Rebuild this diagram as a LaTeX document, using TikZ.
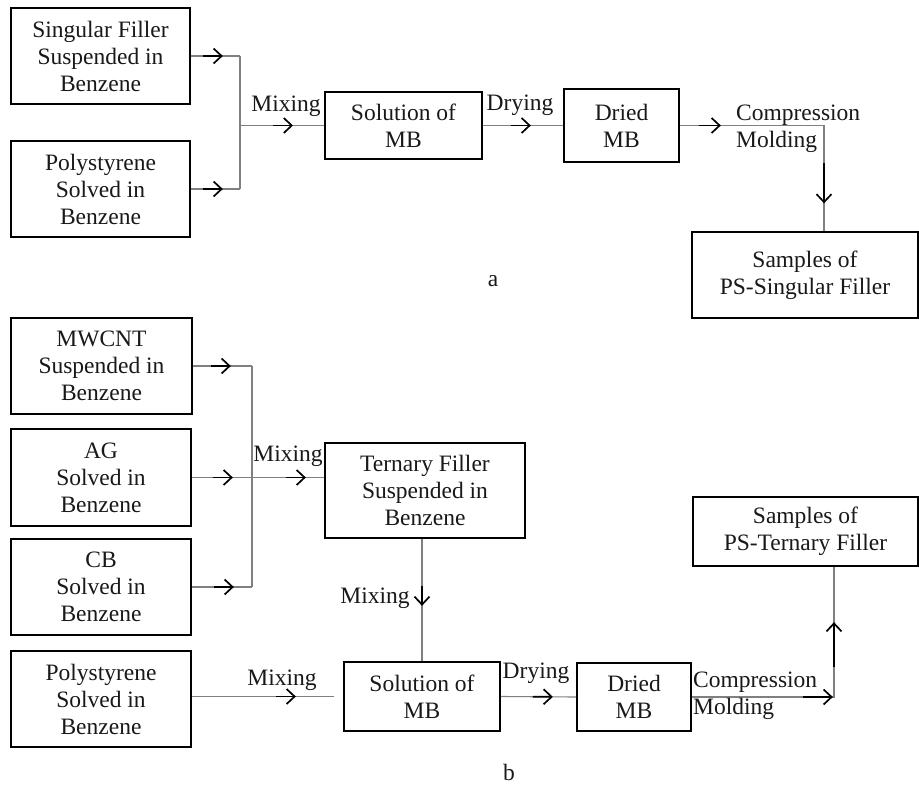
\documentclass[tikz,border=0pt]{standalone}
\usepackage{fontspec}
\setmainfont{Liberation Serif}
\usetikzlibrary{arrows.meta,decorations.markings,calc}
\definecolor{lg}{gray}{0.5}
\definecolor{txt}{gray}{0.1}
\newcommand\diafont{\fontsize{23.5}{27}\selectfont}
\begin{document}
\begin{tikzpicture}[x=1pt,y=-1pt,
  box/.style={draw=black,line width=1.7pt,align=center,inner sep=0pt,font=\diafont,text=txt},
  conn/.style={draw=lg,line width=1.1pt},
  lbl/.style={inner sep=0pt,font=\diafont,text=txt},
  arr/.style 2 args={postaction={decoration={markings,mark=at position #1 with {\draw[black,line width=1.7pt,-{Straight Barb[length=8pt,width=15pt,line width=1.7pt]}] (-#2,0pt) -- (0pt,0pt);}},decorate}}
]
\fill[white] (0,0) rectangle (919,787);
\useasboundingbox (0,0) rectangle (919,787);

% ---------- part a ----------
\node[box,minimum width=179pt,minimum height=96pt] (A1) at (100.5,56) {Singular Filler\\Suspended in\\Benzene};
\node[box,minimum width=179pt,minimum height=96pt] (A2) at (100.5,189) {Polystyrene\\Solved in\\Benzene};
\node[box,minimum width=157pt,minimum height=67pt] (SA) at (403.5,125.5) {Solution of\\MB};
\node[box,minimum width=115pt,minimum height=73pt] (DA) at (621.5,125.5) {Dried\\MB};
\node[box,minimum width=226pt,minimum height=86pt] (PA) at (805,275) {Samples of\\PS-Singular Filler};
\coordinate (ja) at (240,126);
\coordinate (ca) at (824,0);

\draw[conn,arr={32pt}{20pt}] (A1.east) -- (A1.east -| ja);
\draw[conn,arr={32pt}{20pt}] (A2.east) -- (A2.east -| ja);
\draw[conn] (A1.east -| ja) -- (A2.east -| ja);
\draw[conn,arr={53pt}{20pt}] (SA.west -| ja) -- (SA.west);
\draw[conn,arr={48pt}{20pt}] (SA.east) -- (DA.west);
\draw[conn,arr={41pt}{22pt},arr={222pt}{40pt}] (DA.east) -| (PA.north -| ca);

\node[lbl] (mixa) at (286,106) {Mixing};
\node[lbl] (drya) at (520,105) {Drying};
\node[lbl,align=left,anchor=west] (compa) at (736,128.5) {Compression\\Molding};
\node[lbl] (la) at (493,281) {a};

% ---------- part b ----------
\node[box,minimum width=181pt,minimum height=96pt] (MW) at (101.5,366) {MWCNT\\Suspended in\\Benzene};
\node[box,minimum width=180pt,minimum height=97pt] (AG) at (101,477.5) {AG\\Solved in\\Benzene};
\node[box,minimum width=180pt,minimum height=96pt] (CB) at (101,587) {CB\\Solved in\\Benzene};
\node[box,minimum width=180pt,minimum height=96pt] (PSB) at (101,699) {Polystyrene\\Solved in\\Benzene};
\node[box,minimum width=200pt,minimum height=95pt] (TB) at (425,490.5) {Ternary Filler\\Suspended in\\Benzene};
\node[box,minimum width=156pt,minimum height=69pt] (SB) at (422,696.5) {Solution of\\MB};
\node[box,minimum width=114pt,minimum height=68pt] (DB) at (634,697) {Dried\\MB};
\node[box,minimum width=225pt,minimum height=69pt] (PB) at (805.5,531.5) {Samples of\\PS-Ternary Filler};
\coordinate (jb) at (252,0);
\coordinate (cb) at (834,0);

\draw[conn,arr={38pt}{20pt}] (MW.east) -- (MW.east -| jb);
\draw[conn,arr={41pt}{20pt},arr={114pt}{20pt}] (AG.east) -- (AG.east -| TB.west);
\draw[conn,arr={42pt}{20pt}] (CB.east) -- (CB.east -| jb);
\draw[conn] (MW.east -| jb) -- (CB.east -| jb);
\draw[conn,arr={67pt}{20pt}] (TB.south -| SB.north) -- (SB.north);
\draw[conn,arr={104pt}{20pt}] (PSB.east |- SB.west) -- ([xshift=-9pt]SB.west);
\draw[conn,arr={52pt}{20pt}] (SB.east) -- (DB.west);
\draw[conn,arr={141pt}{30pt},arr={217pt}{45pt}] (DB.east) -| (PB.south -| cb);

\node[lbl] (mixb1) at (288,456) {Mixing};
\node[lbl] (mixb2) at (375,598) {Mixing};
\node[lbl] (mixb3) at (282,680) {Mixing};
\node[lbl] (dryb) at (536,673) {Drying};
\node[lbl,align=left,anchor=west] (compb) at (693,696) {Compression\\Molding};
\node[lbl] (lb) at (509,772) {b};
\end{tikzpicture}
\end{document}
